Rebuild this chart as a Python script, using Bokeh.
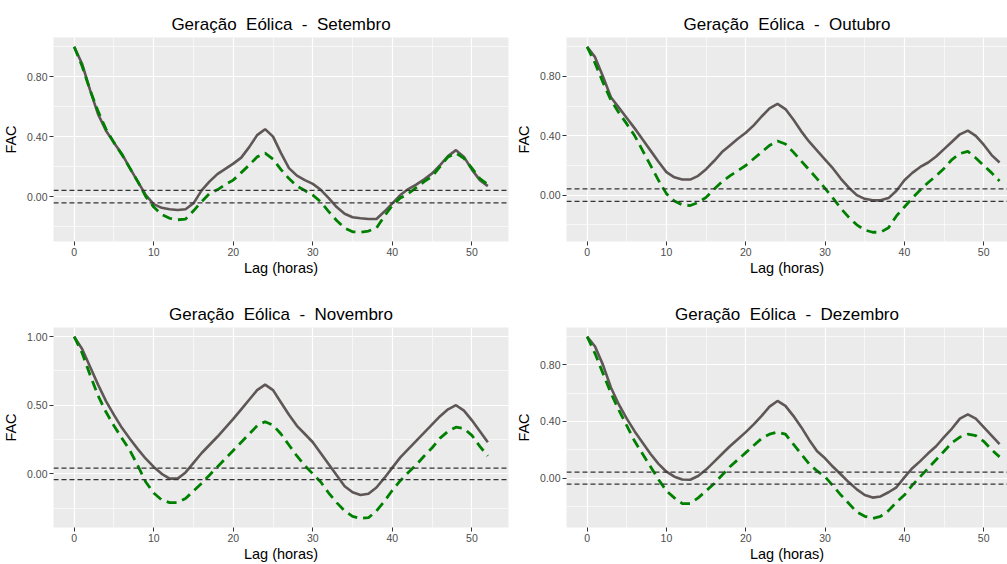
from bokeh.plotting import figure
from bokeh.models import FixedTicker, Span, NumeralTickFormatter, Range1d, Title
from bokeh.layouts import row, column
from bokeh.embed import file_html
from bokeh.resources import INLINE

# ---------------- data ----------------
lags = list(range(53))
# double spaces kept visible with a no-break space (SVG collapses plain runs)
titles = ["Geração \u00a0Eólica \u00a0- \u00a0Setembro", "Geração \u00a0Eólica \u00a0- \u00a0Outubro",
          "Geração \u00a0Eólica \u00a0- \u00a0Novembro", "Geração \u00a0Eólica \u00a0- \u00a0Dezembro"]
x_label = "Lag (horas)"
y_label = "FAC"
x_ticks = [0, 10, 20, 30, 40, 50]
x_minor = [5, 15, 25, 35, 45]

set_grey = [1.0, 0.885, 0.71, 0.55, 0.44, 0.36, 0.285, 0.19, 0.10, 0.01,
            -0.05, -0.075, -0.085, -0.09, -0.085, -0.045, 0.04, 0.10, 0.15, 0.185,
            0.22, 0.26, 0.33, 0.41, 0.45, 0.40, 0.29, 0.19, 0.14, 0.11,
            0.085, 0.045, -0.01, -0.07, -0.115, -0.138, -0.145, -0.15, -0.15, -0.10,
            -0.045, 0.01, 0.05, 0.08, 0.115, 0.155, 0.21, 0.27, 0.31, 0.265,
            0.18, 0.11, 0.07]
set_green = [1.0, 0.87, 0.71, 0.57, 0.45, 0.36, 0.28, 0.19, 0.10, 0.0,
             -0.07, -0.12, -0.145, -0.155, -0.15, -0.095, -0.035, 0.02, 0.045, 0.08,
             0.11, 0.16, 0.21, 0.265, 0.29, 0.25, 0.18, 0.12, 0.07, 0.04,
             0.01, -0.035, -0.10, -0.16, -0.21, -0.235, -0.238, -0.23, -0.21, -0.13,
             -0.06, -0.01, 0.02, 0.06, 0.10, 0.135, 0.20, 0.265, 0.29, 0.255,
             0.19, 0.12, 0.08]
out_grey = [1.0, 0.93, 0.80, 0.66, 0.59, 0.52, 0.45, 0.375, 0.30, 0.225,
            0.155, 0.12, 0.105, 0.105, 0.13, 0.175, 0.23, 0.29, 0.335, 0.38,
            0.42, 0.47, 0.53, 0.585, 0.615, 0.58, 0.51, 0.43, 0.36, 0.30,
            0.24, 0.18, 0.11, 0.05, 0.0, -0.025, -0.035, -0.035, -0.02, 0.03,
            0.10, 0.15, 0.19, 0.22, 0.26, 0.31, 0.36, 0.41, 0.435, 0.40,
            0.34, 0.27, 0.22]
out_green = [1.0, 0.89, 0.76, 0.64, 0.555, 0.48, 0.40, 0.30, 0.20, 0.10,
             0.01, -0.04, -0.065, -0.07, -0.05, -0.015, 0.04, 0.09, 0.13, 0.165,
             0.20, 0.245, 0.29, 0.335, 0.365, 0.345, 0.29, 0.23, 0.17, 0.11,
             0.045, -0.02, -0.09, -0.15, -0.20, -0.235, -0.25, -0.25, -0.22, -0.14,
             -0.08, -0.02, 0.035, 0.085, 0.13, 0.18, 0.24, 0.28, 0.295, 0.25,
             0.20, 0.15, 0.095]
nov_grey = [1.0, 0.91, 0.78, 0.65, 0.53, 0.43, 0.335, 0.255, 0.18, 0.11,
            0.05, 0.0, -0.035, -0.035, 0.01, 0.08, 0.15, 0.21, 0.27, 0.335,
            0.40, 0.47, 0.54, 0.61, 0.65, 0.61, 0.52, 0.43, 0.35, 0.29,
            0.23, 0.15, 0.07, -0.01, -0.09, -0.135, -0.155, -0.145, -0.10, -0.03,
            0.045, 0.12, 0.18, 0.24, 0.30, 0.36, 0.42, 0.47, 0.50, 0.46,
            0.39, 0.31, 0.23]
nov_green = [1.0, 0.88, 0.72, 0.57, 0.45, 0.35, 0.26, 0.17, 0.06, -0.06,
             -0.14, -0.19, -0.21, -0.21, -0.18, -0.125, -0.07, -0.01, 0.05, 0.11,
             0.17, 0.23, 0.29, 0.35, 0.38, 0.355, 0.29, 0.21, 0.13, 0.06,
             0.0, -0.06, -0.14, -0.21, -0.27, -0.31, -0.325, -0.32, -0.27, -0.20,
             -0.12, -0.05, 0.01, 0.065, 0.13, 0.19, 0.26, 0.31, 0.34, 0.33,
             0.28, 0.20, 0.13]
dez_grey = [1.0, 0.93, 0.80, 0.64, 0.52, 0.42, 0.33, 0.25, 0.17, 0.10,
            0.045, 0.01, -0.01, -0.012, 0.015, 0.06, 0.115, 0.17, 0.225, 0.275,
            0.325, 0.38, 0.44, 0.505, 0.545, 0.51, 0.44, 0.36, 0.27, 0.19,
            0.14, 0.08, 0.025, -0.03, -0.08, -0.12, -0.138, -0.13, -0.10, -0.065,
            0.005, 0.07, 0.12, 0.175, 0.225, 0.29, 0.35, 0.42, 0.45, 0.42,
            0.36, 0.30, 0.24]
dez_green = [1.0, 0.88, 0.74, 0.60, 0.48, 0.37, 0.26, 0.17, 0.08, -0.01,
             -0.09, -0.14, -0.18, -0.18, -0.14, -0.09, -0.04, 0.02, 0.08, 0.13,
             0.18, 0.23, 0.28, 0.31, 0.325, 0.31, 0.24, 0.17, 0.10, 0.05,
             0.01, -0.055, -0.12, -0.18, -0.24, -0.27, -0.285, -0.27, -0.23, -0.17,
             -0.12, -0.05, 0.01, 0.07, 0.13, 0.19, 0.25, 0.29, 0.31, 0.30,
             0.26, 0.20, 0.15]
conf_limit = 0.042

y_ticks_a = [0.0, 0.4, 0.8]
y_minor_a = [-0.2, 0.2, 0.6, 1.0]
y_ticks_b = [0.0, 0.5, 1.0]
y_minor_b = [-0.25, 0.25, 0.75]

FONT = "Liberation Sans"
GREY = "#5F5656"
GREEN = "#008000"


def make_panel(title, grey, green, yt, ym, width, left, right, top, bottom, xhi_view):
    span_x = max(lags) - min(lags)
    xlo = min(lags) - 0.05 * span_x
    xhi = max(lags) + 0.05 * span_x
    allv = grey + green
    vmin, vmax = min(allv), max(allv)
    sp = vmax - vmin
    ylo, yhi = vmin - 0.05 * sp, vmax + 0.05 * sp

    p = figure(width=width, height=282, output_backend="svg", toolbar_location=None,
               x_range=Range1d(xlo, min(xhi, xhi_view)), y_range=Range1d(ylo, yhi),
               min_border_left=left, min_border_right=right,
               min_border_top=top, min_border_bottom=bottom)
    p.outline_line_color = None
    p.background_fill_color = "#EBEBEB"
    p.border_fill_color = "white"

    p.add_layout(Title(text=title, align="center", text_font=FONT,
                       text_font_size="17px", text_font_style="normal",
                       text_color="black", standoff=8), "above")

    p.xaxis.ticker = FixedTicker(ticks=x_ticks, minor_ticks=x_minor)
    p.yaxis.ticker = FixedTicker(ticks=yt, minor_ticks=ym)
    p.yaxis.formatter = NumeralTickFormatter(format="0.00")
    p.xaxis.axis_label = x_label
    p.yaxis.axis_label = y_label
    p.xaxis.axis_label_standoff = 1
    p.yaxis.axis_label_standoff = 5
    for ax in (p.xaxis, p.yaxis):
        ax.axis_line_color = None
        ax.major_tick_line_color = "#333333"
        ax.major_tick_out = 4
        ax.major_tick_in = 0
        ax.minor_tick_line_color = None
        ax.major_label_text_font = FONT
        ax.major_label_text_font_size = "10.5px"
        ax.major_label_text_color = "#4D4D4D"
        ax.major_label_standoff = 2
        ax.axis_label_text_font = FONT
        ax.axis_label_text_font_size = "14.5px"
        ax.axis_label_text_font_style = "normal"
        ax.axis_label_text_color = "black"
    for g in (p.xgrid, p.ygrid):
        g.grid_line_color = "white"
        g.grid_line_width = 1.2
        g.minor_grid_line_color = "white"
        g.minor_grid_line_width = 0.6

    for lim in (conf_limit, -conf_limit):
        p.add_layout(Span(location=lim, dimension="width", line_color="#333333",
                          line_width=1.3, line_dash="5 3"))

    p.line(lags, grey, line_color=GREY, line_width=2.6)
    p.line(lags, green, line_color=GREEN, line_width=2.8, line_dash="10 6")
    return p


p1 = make_panel(titles[0], set_grey, set_green, y_ticks_a, y_minor_a, 510, 53, 2, 37, 41, 99)
p2 = make_panel(titles[1], out_grey, out_green, y_ticks_a, y_minor_a, 497, 56, 0, 37, 41, 53.0)
p3 = make_panel(titles[2], nov_grey, nov_green, y_ticks_b, y_minor_b, 510, 53, 2, 45, 34, 99)
p4 = make_panel(titles[3], dez_grey, dez_green, y_ticks_a, y_minor_a, 497, 56, 0, 45, 34, 53.0)

layout = column(row(p1, p2), row(p3, p4))
open("out.html", "w").write(file_html(layout, INLINE))
